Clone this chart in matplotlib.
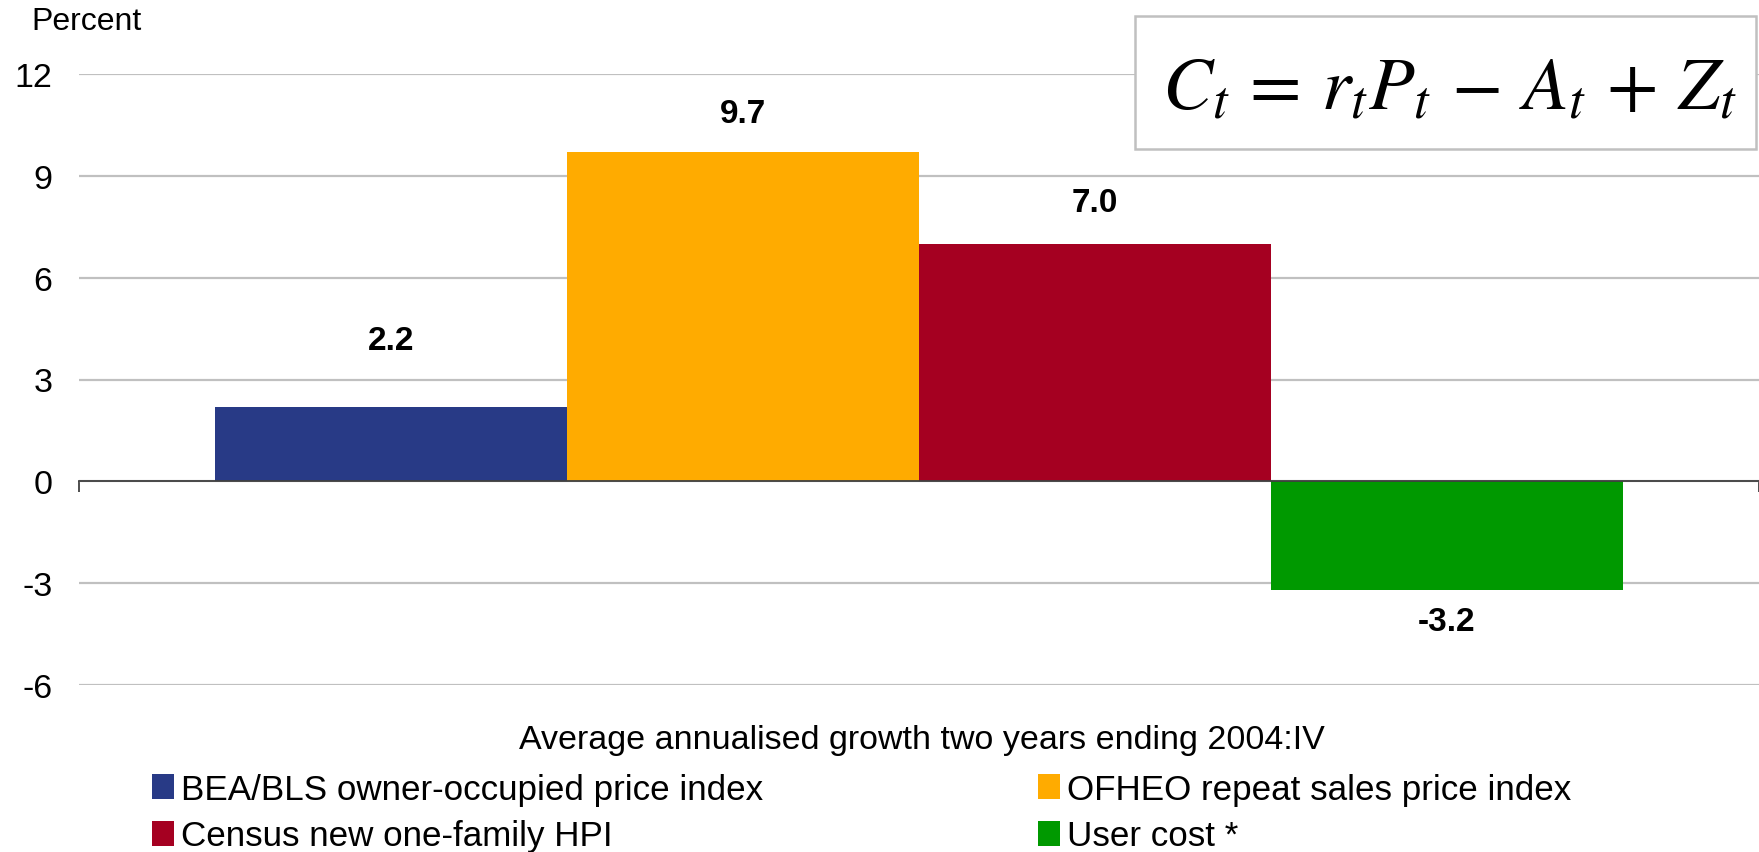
import matplotlib
matplotlib.use("Agg")
import matplotlib.pyplot as plt
from matplotlib.patches import Rectangle, Patch

# data
series = ["BEA/BLS owner-occupied price index", "OFHEO repeat sales price index",
          "Census new one-family HPI", "User cost *"]
values = [2.2, 9.7, 7.0, -3.2]
value_labels = ["2.2", "9.7", "7.0", "-3.2"]
colors = ["#283A86", "#FFAB00", "#A50021", "#009900"]
yticks = [-6, -3, 0, 3, 6, 9, 12]

plt.rcParams["font.family"] = ["Liberation Sans", "DejaVu Sans"]
plt.rcParams["mathtext.fontset"] = "stix"

fig = plt.figure(figsize=(17.59, 8.53), dpi=100)
ax = fig.add_axes([79 / 1759, 1 - 686 / 853, 1 - 79 / 1759, (686 - 75) / 853])

xpos = [-1.5, -0.5, 0.5, 1.5]
bars = ax.bar(xpos, values, width=1.0, color=colors, zorder=3)

# label offsets (data units) as placed in the original
offs = [1.95, 1.15, 1.2, -0.93]
for x, v, lab, o in zip(xpos, values, value_labels, offs):
    ax.text(x, v + o, lab, ha="center", va="center", fontsize=24,
            fontweight="bold", color="black")

half = 1680 / 2 / 352
ax.set_xlim(-half, half)
ax.set_ylim(-6, 12)
ax.set_yticks(yticks)
ax.set_yticklabels([str(t) for t in yticks], fontsize=24.5)
ax.tick_params(axis="y", length=0, pad=19)
ax.yaxis.grid(True, color="#c0c0c0", linewidth=1.6, zorder=0)

for s in ["top", "right", "left"]:
    ax.spines[s].set_visible(False)
ax.spines["bottom"].set_position(("data", 0))
ax.spines["bottom"].set_color("#404040")
ax.spines["bottom"].set_linewidth(1.3)
ax.spines["bottom"].set_zorder(4)
ax.set_xticks([-half, half])
ax.set_xticklabels(["", ""])
ax.tick_params(axis="x", length=8, width=1.3, color="#404040", direction="out")

fig.text(31 / 1759, 1 - 22 / 853, "Percent", fontsize=23, ha="left", va="center")
fig.text(922 / 1759, 1 - 741 / 853, "Average annualised growth two years ending 2004:IV",
         fontsize=24.5, ha="center", va="center")

# formula box
fig.patches.append(Rectangle((1135 / 1759, 1 - 150 / 853), 621 / 1759, 133 / 853,
                             transform=fig.transFigure, facecolor="white",
                             edgecolor="#c0c0c0", linewidth=1.8, zorder=5))
fig.text(1449 / 1759, 1 - 90 / 853, r"$C_t\,=\,r_t P_t\,-\,A_t\,+\,Z_t$", fontsize=54,
         ha="center", va="center", zorder=6)

handles = [Patch(facecolor=c) for c in colors]
leg_kw = dict(fontsize=25.2, frameon=False, handlelength=0.63, handleheight=0.72,
              handletextpad=0.2, labelspacing=0.38, borderpad=0, borderaxespad=0,
              loc="upper left")
fig.legend([handles[0], handles[2]], [series[0], series[2]],
           bbox_to_anchor=(152 / 1759, 1 - 774 / 853), **leg_kw)
fig.legend([handles[1], handles[3]], [series[1], series[3]],
           bbox_to_anchor=(1038 / 1759, 1 - 774 / 853), **leg_kw)

fig.savefig("out.png", dpi=100)
